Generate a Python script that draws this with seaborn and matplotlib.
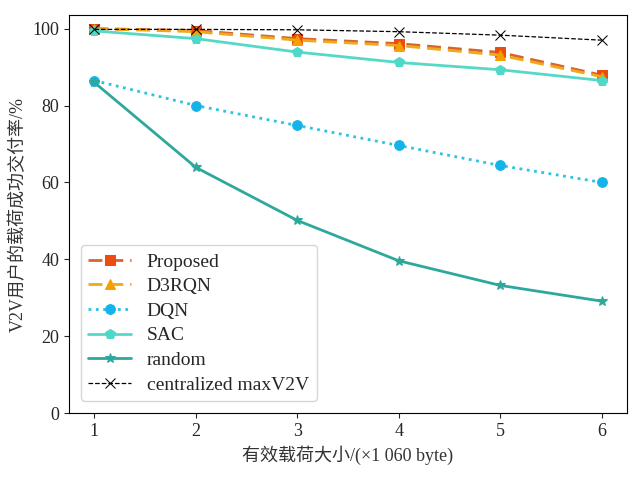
import pandas as pd
import numpy as np
import matplotlib
matplotlib.use("Agg")
import matplotlib.pyplot as plt
import seaborn as sns

sns.set_style("ticks")
plt.rcParams['font.family'] = ['Liberation Serif', 'Noto Sans CJK SC']
plt.rcParams['axes.unicode_minus'] = False

payload = [1, 2, 3, 4, 5, 6]
proposed = [100, 99.5, 97.4, 96.1, 93.8, 87.9]
d3rqn = [100, 99.2, 97.0, 95.6, 93.1, 87.5]
dqn = [86.5, 80.0, 74.8, 69.6, 64.4, 60.0]
sac = [99.4, 97.4, 93.9, 91.2, 89.3, 86.5]
random_ = [86.0, 63.9, 50.1, 39.6, 33.2, 29.1]
central = [99.8, 99.8, 99.7, 99.2, 98.3, 97.0]

series = {
    "Proposed": proposed,
    "D3RQN": d3rqn,
    "DQN": dqn,
    "SAC": sac,
    "random": random_,
    "centralized maxV2V": central,
}

# colour, linestyle, marker, markerfacecolor, linewidth, markersize
styles = {
    "Proposed": ("#d9632b", (0, (5, 2.5)), "s", "#ec4c12", 2.0, 7),
    "D3RQN": ("#f0a81c", (0, (5, 2.5)), "^", "#f5a000", 2.0, 7),
    "DQN": ("#2bc4e0", ":", "o", "#14b4ea", 2.0, 7),
    "SAC": ("#55d9c6", "-", "p", "#4fd8c8", 2.0, 7),
    "random": ("#2ea89c", "-", "*", "#2ea89c", 2.0, 7),
    "centralized maxV2V": ("black", "--", "x", "black", 0.9, 7),
}

fig, ax = plt.subplots(figsize=(6.4, 4.8), dpi=100)

for name, vals in series.items():
    c, ls, mk, mfc, lw, ms = styles[name]
    df = pd.DataFrame({"x": payload, "y": vals})
    sns.lineplot(data=df, x="x", y="y", ax=ax, color=c, linestyle=ls,
                 marker=mk, markerfacecolor=mfc, markeredgecolor=mfc,
                 linewidth=lw, markersize=ms, label=name)

ax.set_ylim(bottom=0)
ax.set_xticks(payload)
ax.set_yticks([0, 20, 40, 60, 80, 100])
ax.tick_params(labelsize=13)
ax.set_xlabel("有效载荷大小/(×1 060 byte)", fontsize=13, color="#333333")
ax.set_ylabel("V2V用户的载荷成功交付率/%", fontsize=13, color="#333333")
for s in ax.spines.values():
    s.set_visible(True)
    s.set_color("black")

leg = ax.legend(loc="lower left", fontsize=14, frameon=True, handlelength=2.2,
                labelspacing=0.36, borderaxespad=0.6)

fig.subplots_adjust(left=69 / 640, right=627 / 640, top=1 - 15 / 480, bottom=1 - 413 / 480)
fig.savefig("out.png", dpi=100)
